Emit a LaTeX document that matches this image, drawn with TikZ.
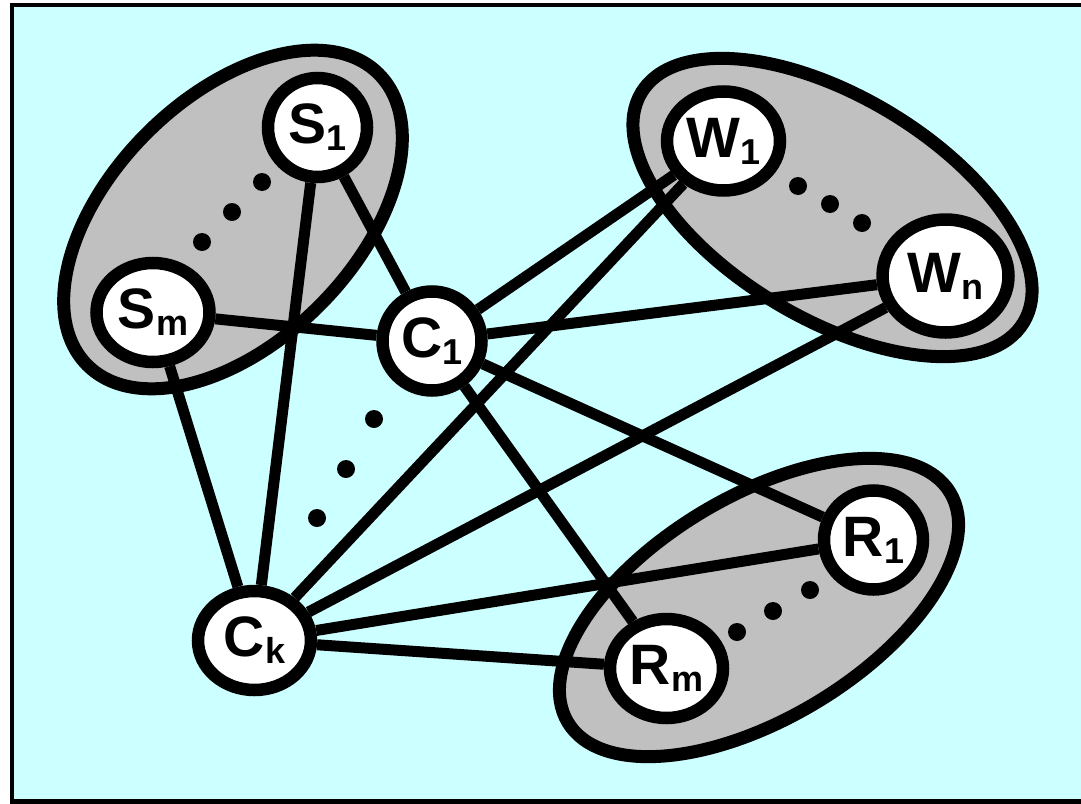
\documentclass[tikz,border=0pt]{standalone}
\usepackage{fontspec}
\setmainfont{Liberation Sans}
\usepackage{tikz}
\usetikzlibrary{shapes.geometric}
\definecolor{bgcyan}{HTML}{CCFFFF}
\definecolor{groupgray}{HTML}{C0C0C0}
\newcommand{\lbl}[2]{#1\raisebox{-7pt}{\fontsize{36}{36}\selectfont #2}}

\begin{document}
\begin{tikzpicture}[x=1pt,y=-1pt,
  group/.style={draw,fill=groupgray,line width=13pt},
  vertex/.style={ellipse,draw,fill=white,line width=12.5pt,inner sep=0pt,
    minimum height=99pt,font=\fontsize{57}{60}\selectfont\bfseries},
  narrow/.style={vertex,minimum width=99pt},
  wide/.style={vertex,minimum width=113pt},
  link/.style={line width=11pt},
  dotmark/.style={circle,fill,inner sep=0pt,minimum size=18pt}]
  \useasboundingbox (0,0) rectangle (1081,803);
  % frame
  \fill[bgcyan] (12,5) rectangle (1081,801.5);
  \draw[line width=4.5pt] (1081,5) -- (12,5) -- (12,801.5) -- (1081,801.5);
  % groups
  \draw[group,shift={(233,219.5)},rotate=45] (0,0) ellipse [x radius=206,y radius=122];
  \draw[group,shift={(832.5,207.5)},rotate=-31] (0,0) ellipse [x radius=223,y radius=111];
  \draw[group,shift={(759,607.5)},rotate=31] (0,0) ellipse [x radius=223,y radius=111];
  % vertices
  \node[narrow] (s1) at (317.5,127.5) {\lbl{S}{1}};
  \node[wide]   (sm) at (153,312.5) {\lbl{S}{m}};
  \node[narrow] (c1) at (432,341) {\lbl{C}{1}};
  \node[wide]   (ck) at (254.5,640.5) {\lbl{C}{k}};
  \node[wide]   (w1) at (723.5,141) {\lbl{W}{1}};
  \node[wide,minimum width=126pt,minimum height=113pt] (wn) at (945.5,276) {\lbl{W}{n}};
  \node[narrow] (r1) at (873.5,540) {\lbl{R}{1}};
  \node[wide]   (rm) at (666.5,668.5) {\lbl{R}{m}};
  % links
  \draw[link] (s1) -- (c1);
  \draw[link] (s1) -- (ck);
  \draw[link] (sm) -- (c1);
  \draw[link] (sm) -- (ck);
  \draw[link] (c1) -- (w1);
  \draw[link] (c1) -- (wn);
  \draw[link] (c1) -- (r1);
  \draw[link] (c1) -- (rm);
  \draw[link] (ck) -- (w1);
  \draw[link] (ck) -- (wn);
  \draw[link] (ck) -- (r1);
  \draw[link] (ck) -- (rm);
  % dots
  \foreach \x/\y [count=\i] in {262/182,232/212,202/242}
    \node[dotmark] (sdot\i) at (\x,\y) {};
  \foreach \x/\y [count=\i] in {798/186,830/204,862/223}
    \node[dotmark] (wdot\i) at (\x,\y) {};
  \foreach \x/\y [count=\i] in {810/590,773/611,737/632}
    \node[dotmark] (rdot\i) at (\x,\y) {};
  \foreach \x/\y [count=\i] in {374/419,346/469,317/518}
    \node[dotmark] (cdot\i) at (\x,\y) {};
\end{tikzpicture}
\end{document}
